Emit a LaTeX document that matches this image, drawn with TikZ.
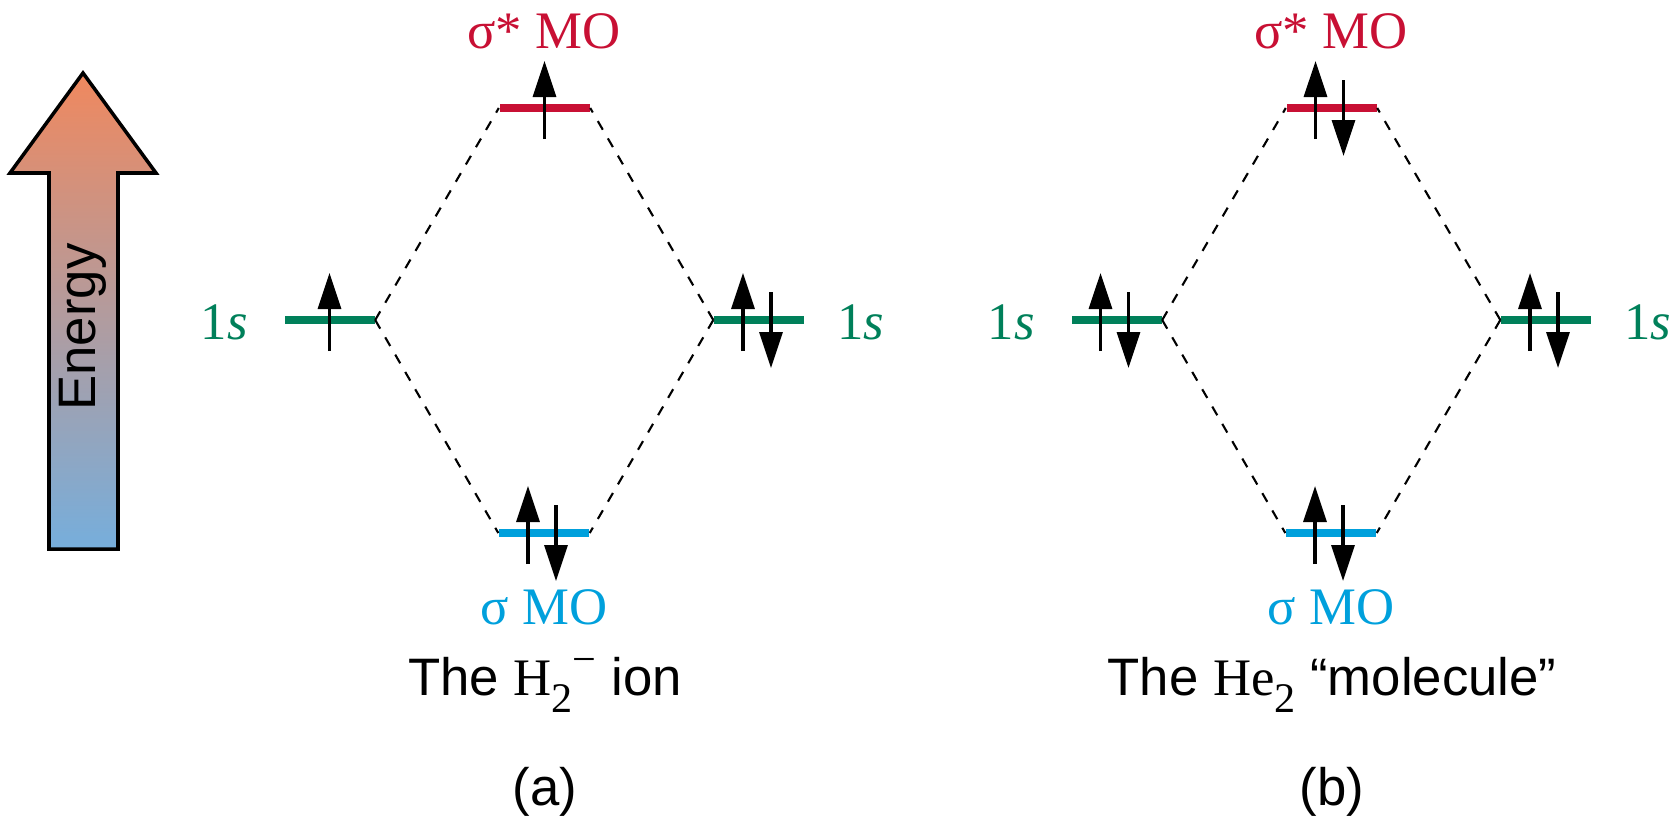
\documentclass[tikz,border=0pt]{standalone}
\usepackage{fontspec}
\setmainfont{Liberation Sans}
\newfontfamily\labelfont{Liberation Serif}
\usepackage{tikz}
\usetikzlibrary{arrows.meta}

\definecolor{mored}{RGB}{200,16,52}
\definecolor{mogreen}{RGB}{0,128,90}
\definecolor{moblue}{RGB}{0,160,220}
\definecolor{engorange}{RGB}{240,136,94}
\definecolor{engblue}{RGB}{118,174,220}

\tikzset{
    molevel/.style={fill=#1, inner sep=0pt, minimum width=0.9cm, minimum height=0.08cm},
    corr/.style={line width=0.6pt, dash pattern=on 0.1cm off 0.1cm},
    spin/.style={line width=0.9pt, -{Triangle[length=3.6mm, width=2.3mm]}},
    mo/.style={font=\fontsize{15}{18}\selectfont\labelfont, anchor=base},
    capt/.style={font=\fontsize{15}{18}\selectfont, anchor=base}
}

\begin{document}
\begin{tikzpicture}
    \useasboundingbox (0,0) rectangle (16.69,8.16);

    % Energy axis
    \draw[line width=1pt, top color=engorange, bottom color=engblue]
        (0.49,2.67) -- (1.18,2.67) -- (1.18,6.43) -- (1.56,6.43) -- (0.83,7.43)
        -- (0.10,6.43) -- (0.49,6.43) -- cycle;
    \node[rotate=90, font=\fontsize{15}{18}\selectfont] (energy) at (0.83,4.89) {Energy};

    % H2- ion
    \begin{scope}
        \node[molevel=mored] (ssa) at (5.445,7.08) {};
        \node[molevel=mogreen] (l1a) at (3.295,4.96) {};
        \node[molevel=mogreen] (l2a) at (7.59,4.96) {};
        \node[molevel=moblue] (sa) at (5.44,2.83) {};

        \node[mo, text=mored] (ssalab) at (5.44,7.68) {σ* MO};
        \node[mo, text=moblue] (salab) at (5.44,1.92) {σ MO};
        \node[mo, text=mogreen, anchor=base east] (l1alab) at (2.60,4.77) {1\textit{s}};
        \node[mo, text=mogreen, anchor=base west] (l2alab) at (8.25,4.77) {1\textit{s}};

        \draw[corr] (l1a.east) -- (ssa.west);
        \draw[corr] (l1a.east) -- (sa.west);
        \draw[corr] (l2a.west) -- (ssa.east);
        \draw[corr] (l2a.west) -- (sa.east);

        \draw[spin] ([yshift=-0.31cm]ssa.center) -- ++(0,0.78);
        \draw[spin] ([yshift=-0.31cm]l1a.center) -- ++(0,0.78);
        \draw[spin] ([xshift=-0.16cm, yshift=-0.31cm]l2a.center) -- ++(0,0.78);
        \draw[spin] ([xshift=0.12cm, yshift=0.28cm]l2a.center) -- ++(0,-0.76);
        \draw[spin] ([xshift=-0.16cm, yshift=-0.31cm]sa.center) -- ++(0,0.78);
        \draw[spin] ([xshift=0.12cm, yshift=0.28cm]sa.center) -- ++(0,-0.76);

        \node[capt] (capa) at (5.45,1.21) {The {\labelfont H\raisebox{-0.17cm}{\fontsize{12}{14}\selectfont 2}\raisebox{0.22cm}{\fontsize{12}{14}\selectfont −}} ion};
        \node[capt] (taga) at (5.45,0.11) {(a)};
    \end{scope}

    % He2 molecule
    \begin{scope}[xshift=7.87cm]
        \node[molevel=mored] (ssb) at (5.445,7.08) {};
        \node[molevel=mogreen] (l1b) at (3.295,4.96) {};
        \node[molevel=mogreen] (l2b) at (7.59,4.96) {};
        \node[molevel=moblue] (sb) at (5.44,2.83) {};

        \node[mo, text=mored] (ssblab) at (5.44,7.68) {σ* MO};
        \node[mo, text=moblue] (sblab) at (5.44,1.92) {σ MO};
        \node[mo, text=mogreen, anchor=base east] (l1blab) at (2.60,4.77) {1\textit{s}};
        \node[mo, text=mogreen, anchor=base west] (l2blab) at (8.25,4.77) {1\textit{s}};

        \draw[corr] (l1b.east) -- (ssb.west);
        \draw[corr] (l1b.east) -- (sb.west);
        \draw[corr] (l2b.west) -- (ssb.east);
        \draw[corr] (l2b.west) -- (sb.east);

        \draw[spin] ([xshift=-0.16cm, yshift=-0.31cm]ssb.center) -- ++(0,0.78);
        \draw[spin] ([xshift=0.12cm, yshift=0.28cm]ssb.center) -- ++(0,-0.76);
        \draw[spin] ([xshift=-0.16cm, yshift=-0.31cm]l1b.center) -- ++(0,0.78);
        \draw[spin] ([xshift=0.12cm, yshift=0.28cm]l1b.center) -- ++(0,-0.76);
        \draw[spin] ([xshift=-0.16cm, yshift=-0.31cm]l2b.center) -- ++(0,0.78);
        \draw[spin] ([xshift=0.12cm, yshift=0.28cm]l2b.center) -- ++(0,-0.76);
        \draw[spin] ([xshift=-0.16cm, yshift=-0.31cm]sb.center) -- ++(0,0.78);
        \draw[spin] ([xshift=0.12cm, yshift=0.28cm]sb.center) -- ++(0,-0.76);

        \node[capt] (capb) at (5.45,1.21) {The {\labelfont He\raisebox{-0.17cm}{\fontsize{12}{14}\selectfont 2}} “molecule”};
        \node[capt] (tagb) at (5.45,0.11) {(b)};
    \end{scope}
\end{tikzpicture}
\end{document}
